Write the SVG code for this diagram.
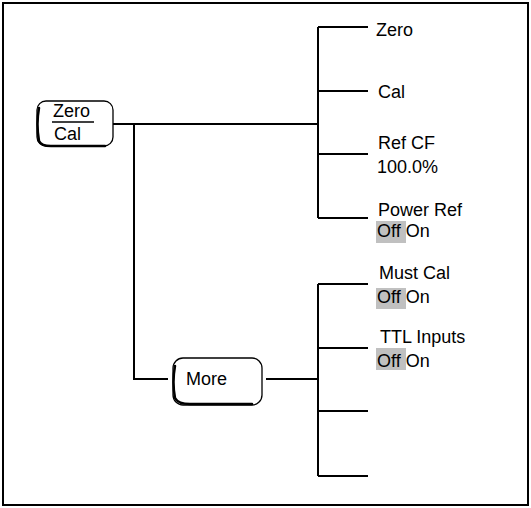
<svg xmlns="http://www.w3.org/2000/svg" width="531" height="508" viewBox="0 0 531 508">
<style>
.ln{stroke:#000;stroke-width:2;fill:none}
.t{font-family:"Liberation Sans",Arial,sans-serif;font-size:18px;fill:#000}
.hl{fill:#c0c0c0}
.btn{fill:#fff;stroke:#000;stroke-width:1.3}
.sh{fill:none;stroke:#000;stroke-width:2.5;stroke-linecap:round}
</style>
<rect x="3" y="3" width="525" height="502" fill="#fff" stroke="#000" stroke-width="2"/>
<g id="connectors">
<path class="ln" d="M113 124H318M318 27V218M318 27H368M318 91H368M318 154H368M318 218H368"/>
<path class="ln" d="M134 124V379H168M266 379H318M318 284V476M318 284H368M318 348H368M318 411H368M318 476H368"/>
</g>
<g id="zerocal">
<rect class="btn" x="37" y="101" width="76" height="45" rx="9"/>
<path class="sh" d="M39 108Q36 124 39 141Q41 146 51 146H105"/>
<text class="t" x="53" y="117" font-size="19">Zero</text>
<line x1="52" y1="122" x2="94" y2="122" stroke="#000" stroke-width="1.3"/>
<text class="t" x="54" y="140" font-size="19">Cal</text>
</g>
<g id="more">
<rect class="btn" x="173" y="358" width="89" height="47" rx="10"/>
<path class="sh" d="M175 366Q172 382 175 398Q178 404 190 404H252"/>
<text class="t" x="186" y="385" font-size="19">More</text>
</g>
<g id="zero"><text class="t" x="376" y="36">Zero</text></g>
<g id="cal"><text class="t" x="378" y="98">Cal</text></g>
<g id="refcf"><text class="t" x="378" y="149">Ref CF</text><text class="t" x="377" y="173">100.0%</text></g>
<g id="powerref"><text class="t" x="378" y="216">Power Ref</text><rect class="hl" x="376" y="221" width="30" height="22"/><text class="t" x="377" y="237">Off On</text></g>
<g id="mustcal"><text class="t" x="379" y="279">Must Cal</text><rect class="hl" x="376" y="288" width="30" height="21"/><text class="t" x="377" y="303">Off On</text></g>
<g id="ttl"><text class="t" x="380" y="343">TTL Inputs</text><rect class="hl" x="376" y="348" width="30" height="22"/><text class="t" x="377" y="367">Off On</text></g>
</svg>
